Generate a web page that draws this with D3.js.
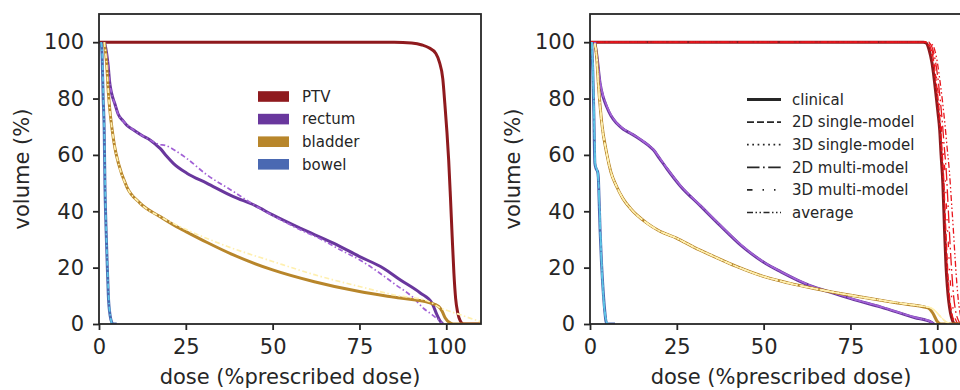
<!DOCTYPE html>
<html>
<head>
<meta charset="utf-8">
<script src="https://cdn.jsdelivr.net/npm/d3@7"></script>
<style>
  body { margin: 0; background: #fff; }
  svg { display: block; }
  text { font-family: 'DejaVu Sans', sans-serif; fill: #262626; }
</style>
</head>
<body>
<svg id="chart" width="960" height="390"></svg>
<script>
// axis ticks
const doseTicks = [0, 25, 50, 75, 100];
const volumeTicks = [0, 20, 40, 60, 80, 100];
const structures = ['PTV', 'rectum', 'bladder', 'bowel'];
const models = ['clinical', '2D single-model', '3D single-model', '2D multi-model', '3D multi-model', 'average'];

// left panel: [dose, volume]
const ptvClinicalA = [[0,100],[85,100],[90,99.7],[93,99],[95,98],[97,96],[98,93],[99,87],[99.6,78],[100.2,68],[100.7,58],[101.2,45],[101.7,31],[102.2,18],[102.7,9],[103.3,4],[104,1.2],[105,0],[110,0]];
const rectumClinicalA = [[1.6,100],[2.2,96],[2.7,91],[3,86.5],[3.6,82],[4.6,78],[5.5,74.5],[7,72],[8,70.5],[10,68.8],[12.5,66.8],[14.7,65.3],[16.5,63.5],[17.6,62.3],[19.5,59.5],[21.4,57],[25.3,53.5],[31,50],[38.7,45.2],[45,42],[50,38.7],[57.9,34],[67.5,28.7],[74.9,24],[81.9,19.8],[86.7,15.7],[92.5,11],[95.9,7.4],[97.3,3.3],[98.3,0.9],[99,0]];
const rectumPredA = [[1.6,100],[2.2,96],[2.7,91],[3,86.5],[3.6,82],[4.6,78],[5.5,74.5],[7,72],[10,68.8],[14.7,65.3],[17,63.8],[19.3,63.3],[22,61.5],[25,59],[31,53],[38.7,47],[45,42],[50,38.5],[57,34],[63.5,30.3],[70,26],[75,22.8],[80.9,18],[85,14.3],[90.6,9.2],[93.5,5.5],[95.9,3.3],[98.3,0.9],[99,0]];
const bladderClinicalA = [[1.5,100],[2.2,92.5],[2.7,82],[3.2,75],[3.8,68.8],[4.5,63],[5.6,57],[8,48.7],[11.8,42.9],[17.6,38.1],[23.3,33.9],[25,32.8],[31,29],[38.7,24.5],[50,19.2],[62,15],[75,11.5],[86.7,9.2],[95,7.6],[97.8,6.2],[98.8,4.5],[99.7,2.1],[101.2,0.3],[102,0],[110,0]];
const bladderPredA = [[1.5,100],[2.2,92.5],[2.7,82],[3.2,75],[3.8,68.8],[4.5,63],[5.6,57],[8,48.7],[11.8,42.9],[17.6,38.1],[25,33.6],[37,27.5],[50,22.2],[62,17.5],[75,13.3],[85,10.3],[95,8],[98.3,5.7],[101,4.5],[104,3.3],[107,2],[110,0.8]];
const bowelClinicalA = [[0.6,100],[0.9,95],[1.2,80],[1.5,68.8],[1.7,50],[2,35],[2.4,20],[2.7,9.8],[3.2,3],[3.7,0.5],[4,0],[5.1,0]];
const bowelPredA = [[0.6,100],[1,94],[1.3,78],[1.6,64],[1.8,47],[2.1,32],[2.5,18],[2.8,9],[3.3,2.5],[3.7,0.3],[4,0]];

// right panel: [dose, volume]
const ptvClinicalB = [[0,100],[96,100],[96.8,99.7],[97.6,97.5],[98.5,92.5],[99.2,86],[99.7,80.6],[100.2,75],[100.7,68.8],[101.1,60],[101.6,50],[102.1,33],[102.5,21],[102.9,13.3],[103.3,8],[103.8,3.9],[104.4,1.2],[105,0],[110,0]];
const ptv2DSingleB = [[0,100],[96.5,100],[97.4,99.6],[98.2,97.5],[99,93],[99.7,86],[100.3,79],[100.8,72],[101.3,63],[101.8,53],[102.3,38],[102.7,27],[103.1,17],[103.5,10],[104,5],[104.6,1.8],[105.3,0.3],[106,0],[110,0]];
const ptv3DSingleB = [[0,100],[96.3,100],[97.1,99.6],[97.9,97.5],[98.7,93],[99.4,86.5],[100,80],[100.6,72],[101.1,63],[101.6,54],[102.1,40],[102.5,28],[102.9,18],[103.3,11],[103.8,5.5],[104.4,2],[105,0.4],[105.6,0],[110,0]];
const ptv2DMultiB = [[0,100],[97,100],[97.9,99.5],[98.7,97.5],[99.5,93],[100.3,86],[100.9,79],[101.5,71],[102,63],[102.6,54],[103.2,40],[103.7,28],[104.2,18],[104.7,10],[105.3,4.5],[106,1.5],[106.7,0.2],[107.2,0],[110,0]];
const ptv3DMultiB = [[0,100],[96.8,100],[97.6,99.5],[98.4,97.5],[99.2,93],[99.9,86],[100.5,79],[101.1,71],[101.6,63],[102.2,54],[102.7,40],[103.2,28],[103.6,18],[104.1,10],[104.6,5],[105.3,1.5],[106,0.2],[106.5,0],[110,0]];
const ptvAverageB = [[0,100],[97.5,100],[98.3,99.5],[99.2,97.5],[100,93],[100.8,86],[101.5,79],[102.2,71],[102.8,63],[103.5,54],[104,45],[104.6,34],[105.1,24],[105.6,15],[106.1,8],[106.7,3],[107.3,0.5],[108,0],[110,0]];
const rectumClinicalB = [[1.4,100],[2,95],[2.9,85.4],[3.8,80.5],[4.8,77.1],[6,74],[7.7,71.2],[9.5,69.2],[11.6,67.7],[13.5,66.3],[15.4,64.7],[17,63.2],[18.3,61.7],[20,58.8],[22.2,55],[26,49],[31.8,41.9],[37.6,34.8],[43.4,28],[49.9,22],[55,18.5],[59.7,15.6],[64,13.3],[68.4,11.6],[72,10.2],[75.1,9],[83.8,6],[93.4,2.3],[98.3,0.6],[99,0]];
const rectumPredB = [[1.4,100],[2,95.5],[2.9,86],[3.8,81],[4.8,77.5],[6,74.3],[7.7,71.4],[9.5,69.4],[11.6,67.8],[13.5,66.4],[15.4,64.8],[17,63.3],[18.3,61.9],[20,59],[22.2,55.2],[26,49.2],[31.8,42.1],[37.6,35],[43.4,28.2],[49.9,22.1],[55,18.6],[59.7,15.7],[64,13.4],[68.4,11.7],[72,10.3],[75.1,9.1],[83.8,6.1],[93.4,2.4],[98.3,0.7],[99.2,0]];
const bladderClinicalB = [[1.4,99.5],[1.9,95],[2.4,85.4],[3.4,71.2],[4.8,60.6],[6,54],[7.7,48.7],[9.5,44.5],[11.6,41.1],[16.4,35.8],[20,33],[24.9,30.5],[30,27.2],[35.6,24],[42,20.5],[49.9,16.9],[57,14.6],[64.5,12.6],[70,11.3],[75.1,10.2],[88.6,7.4],[97.3,5.7],[98.7,3.9],[100,0.9],[101,0],[110,0]];
const bladderPredB = [[1.4,99.5],[1.9,95],[2.4,85.4],[3.4,71.2],[4.8,60.6],[6,54],[7.7,48.7],[9.5,44.5],[11.6,41.1],[16.4,35.8],[20,33],[24.9,30.5],[30,27.2],[35.6,24],[42,20.5],[49.9,16.9],[57,14.6],[64.5,12.6],[70,11.3],[75.1,10.2],[88.6,7.5],[95,6.4],[98,5.8],[99.5,4.5],[101,2.5],[102.5,0.8],[104,0],[110,0]];
const bowelClinicalB = [[0.5,100],[0.8,90],[1.1,75],[1.4,57],[1.8,55],[2.2,54],[2.4,52],[2.6,45],[2.9,33.4],[3.3,22],[3.9,9.8],[4.3,4],[4.6,0.9],[5,0],[7.2,0]];
const bowelPredB = [[0.5,100],[0.9,88],[1.2,72],[1.5,57],[2.3,53],[2.6,46],[3,32],[3.4,20],[3.9,9],[4.4,3],[4.8,0.5],[5.2,0]];

const ink = '#262626';
const colors = {
  PTV: ['#8f1a1e', '#e8161d'],
  rectum: ['#69379d', '#a262d6'],
  bladder: ['#b8862b', '#fff0b0'],
  bowel: ['#4a69b2', '#5ec6e6']
};
const dashes = {
  'clinical': null,
  '2D single-model': '7,3',
  '3D single-model': '1.7,3.6',
  '2D multi-model': '12.5,3.5,1.7,3.5',
  '3D multi-model': '5.5,10,1.5,10,1.5,10',
  'average': '6,2.5,1.5,2.5,1.5,2.5'
};

const svg = d3.select('#chart');
const plotTop = 14, plotBottom = 324, plotW = 382;

function drawPanel(left, id) {
  let x = d3.scaleLinear().domain([0, 110]).range([left, left + plotW]);
  let y = d3.scaleLinear().domain([0, 110]).range([plotBottom, plotTop]);

  svg.append('clipPath').attr('id', id)
    .append('rect')
      .attr('x', left).attr('y', plotTop)
      .attr('width', plotW).attr('height', plotBottom - plotTop);

  let g = svg.append('g');
  let lines = g.append('g').attr('clip-path', 'url(#' + id + ')');

  let xAxis = g.append('g')
    .attr('transform', 'translate(0,' + plotBottom + ')')
    .call(d3.axisBottom(x).tickValues(doseTicks).tickSize(6).tickPadding(9).tickFormat(d3.format('d')));
  let yAxis = g.append('g')
    .attr('transform', 'translate(' + left + ',0)')
    .call(d3.axisLeft(y).tickValues(volumeTicks).tickSize(6).tickPadding(9).tickFormat(d3.format('d')));

  [xAxis, yAxis].forEach((a) => {
    a.select('.domain').remove();
    a.selectAll('line').attr('stroke', ink).attr('stroke-width', 1.8);
    a.selectAll('text').attr('fill', ink).style('font-size', '21px');
  });

  g.append('rect')
    .attr('x', left).attr('y', plotTop)
    .attr('width', plotW).attr('height', plotBottom - plotTop)
    .attr('fill', 'none')
    .attr('stroke', ink)
    .attr('stroke-width', 1.8);

  g.append('text')
    .attr('transform', 'translate(' + (left - 70) + ',' + ((plotTop + plotBottom) / 2) + ') rotate(-90)')
    .attr('text-anchor', 'middle')
    .style('font-size', '21px')
    .text('volume (%)');

  g.append('text')
    .attr('x', left + plotW / 2)
    .attr('y', 384)
    .attr('text-anchor', 'middle')
    .style('font-size', '21px')
    .text('dose (%prescribed dose)');

  let line = d3.line()
    .x((d) => x(d[0]))
    .y((d) => y(d[1]))
    .curve(d3.curveMonotoneX);

  function addCurve(data, color, width, dash) {
    lines.append('path')
      .datum(data)
      .attr('d', line)
      .attr('fill', 'none')
      .attr('stroke', color)
      .attr('stroke-width', width)
      .attr('stroke-linejoin', 'round')
      .attr('stroke-dasharray', dash);
  }

  return { x: x, y: y, g: g, addCurve: addCurve };
}

// ---- left panel ----
let pa = drawPanel(99, 'clipA');
let clinicalA = { PTV: ptvClinicalA, rectum: rectumClinicalA, bladder: bladderClinicalA, bowel: bowelClinicalA };
let predA = { rectum: rectumPredA, bladder: bladderPredA, bowel: bowelPredA };
structures.forEach((s) => {
  pa.addCurve(clinicalA[s], colors[s][0], 3, null);
  if (predA[s]) pa.addCurve(predA[s], colors[s][1], 1.7, '5,2.5,1.5,2.5');
});

let legA = pa.g.append('g');
structures.forEach((s, i) => {
  let cy = 96.5 + i * 22.6;
  legA.append('rect')
    .attr('x', 258).attr('y', cy - 5.3)
    .attr('width', 31).attr('height', 10.6)
    .attr('fill', colors[s][0]);
  legA.append('text')
    .attr('x', 302).attr('y', cy + 5.3)
    .style('font-size', '15px')
    .text(s);
});

// ---- right panel ----
let pb = drawPanel(590, 'clipB');
let clinicalB = { PTV: ptvClinicalB, rectum: rectumClinicalB, bladder: bladderClinicalB, bowel: bowelClinicalB };
let predB = {
  PTV: [ptv2DSingleB, ptv3DSingleB, ptv2DMultiB, ptv3DMultiB, ptvAverageB],
  rectum: [rectumPredB, rectumPredB, rectumPredB, rectumPredB, rectumPredB],
  bladder: [bladderPredB, bladderPredB, bladderPredB, bladderPredB, bladderPredB],
  bowel: [bowelPredB, bowelPredB, bowelPredB, bowelPredB, bowelPredB]
};
structures.forEach((s) => {
  pb.addCurve(clinicalB[s], colors[s][0], 3, null);
  predB[s].forEach((d, j) => {
    pb.addCurve(d, colors[s][1], 1.3, dashes[models[j + 1]]);
  });
});

let legB = pb.g.append('g');
models.forEach((m, i) => {
  let cy = 99.5 + i * 22.6;
  legB.append('line')
    .attr('x1', 747).attr('x2', 781)
    .attr('y1', cy).attr('y2', cy)
    .attr('stroke', ink)
    .attr('stroke-width', m === 'clinical' ? 3 : 1.7)
    .attr('stroke-dasharray', dashes[m]);
  legB.append('text')
    .attr('x', 792).attr('y', cy + 5.3)
    .style('font-size', '15px')
    .text(m);
});
</script>
</body>
</html>
